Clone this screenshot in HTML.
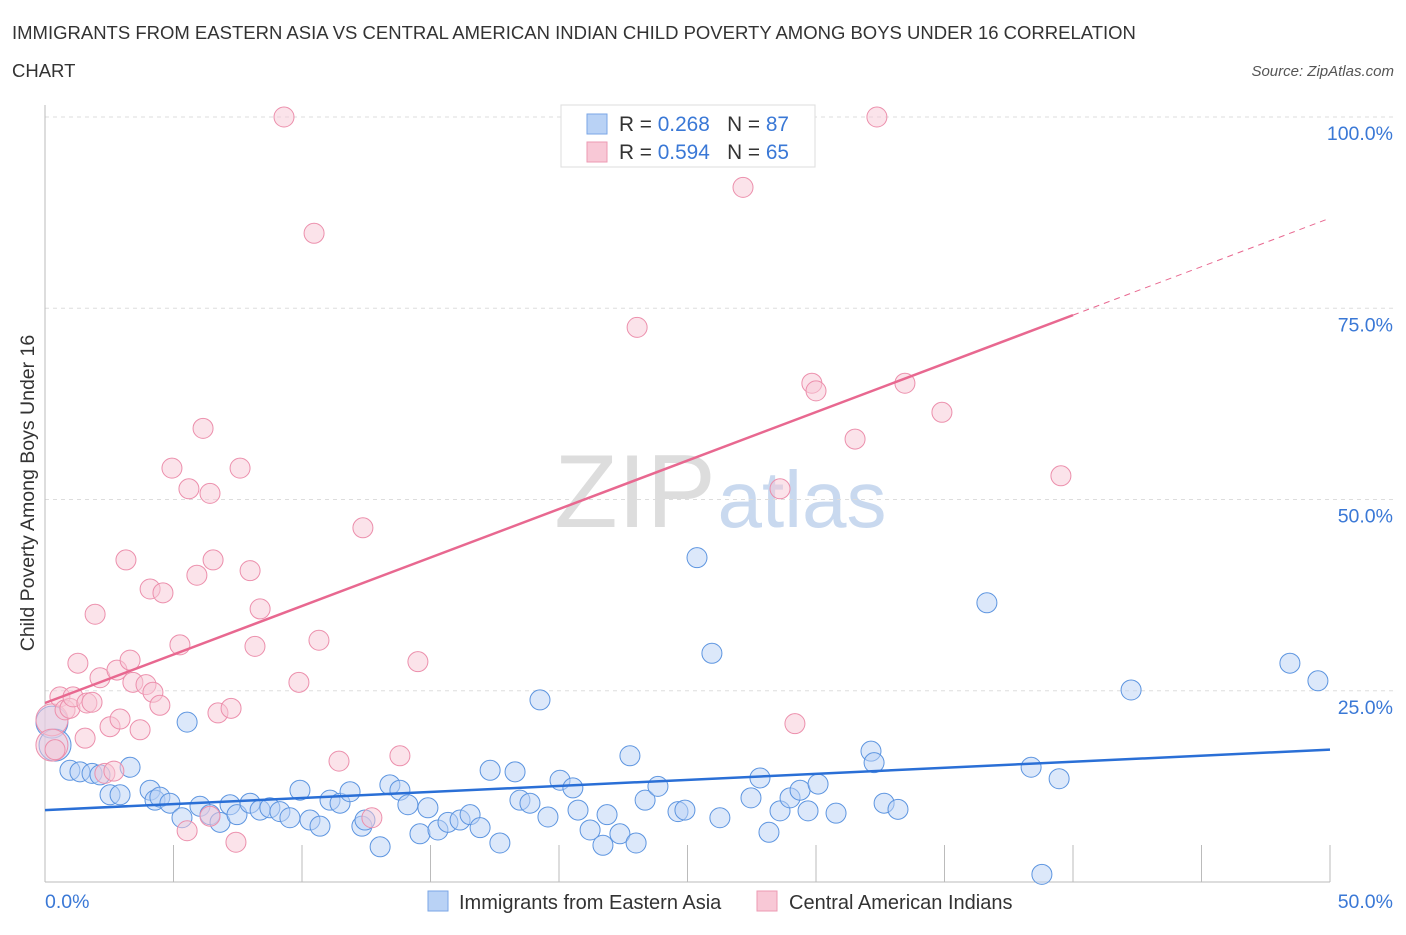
<!DOCTYPE html>
<html><head><meta charset="utf-8"><style>
body{margin:0;background:#fff;font-family:"Liberation Sans",sans-serif}
svg text{font-family:"Liberation Sans",sans-serif}
</style></head><body>
<svg id="c" width="1406" height="930">
<text x="12" y="39" font-size="18.5" fill="#333">IMMIGRANTS FROM EASTERN ASIA VS CENTRAL AMERICAN INDIAN CHILD POVERTY AMONG BOYS UNDER 16 CORRELATION</text>
<text x="12" y="77" font-size="18.5" fill="#333">CHART</text>
<text x="1394" y="76" font-size="15" fill="#555" font-style="italic" text-anchor="end">Source: ZipAtlas.com</text>
<text transform="translate(34,493) rotate(-90)" font-size="19.5" fill="#333" text-anchor="middle">Child Poverty Among Boys Under 16</text>
<g><text x="635" y="527" font-size="104" fill="#ddd" text-anchor="middle" font-family="Liberation Serif">ZIP</text><text x="802" y="527" font-size="80" fill="#c9d9ef" text-anchor="middle">atlas</text></g>
<g id="grid"></g><g id="marks"></g><g id="lines"></g>
<g>
<rect x="561" y="105" width="254" height="62" fill="#fff" stroke="#ddd"/>
<rect x="587" y="114" width="20" height="20" fill="#b9d2f5" stroke="#7aa6e6"/>
<rect x="587" y="142" width="20" height="20" fill="#f8c8d6" stroke="#ec9ab3"/>
<text x="619" y="131" font-size="20.8" fill="#333">R = <tspan fill="#3a78d6">0.268</tspan>&#160;&#160;&#160;N = <tspan fill="#3a78d6">87</tspan></text>
<text x="619" y="159" font-size="20.8" fill="#333">R = <tspan fill="#3a78d6">0.594</tspan>&#160;&#160;&#160;N = <tspan fill="#3a78d6">65</tspan></text>
</g>
<g>
<rect x="428" y="891" width="20" height="20" fill="#b9d2f5" stroke="#7aa6e6"/>
<text x="459" y="909" font-size="20" fill="#333">Immigrants from Eastern Asia</text>
<rect x="757" y="891" width="20" height="20" fill="#f8c8d6" stroke="#ec9ab3"/>
<text x="789" y="909" font-size="20" fill="#333">Central American Indians</text>
</g>
</svg>
<script>
const yTicks=[25,50,75,100];
const yTickLabels=["25.0%","50.0%","75.0%","100.0%"];
const xTickLabels=["0.0%","50.0%"];
const blueX=[0.27,0.39,0.97,1.36,1.83,2.14,2.53,2.92,3.31,4.09,4.28,4.47,4.86,5.33,5.53,6.03,6.42,6.81,7.20,7.47,7.98,8.37,8.75,9.14,9.53,9.92,10.31,10.70,11.09,11.48,11.87,12.33,12.45,13.04,13.42,13.81,14.12,14.59,14.90,15.29,15.68,16.15,16.54,16.93,17.32,17.70,18.29,18.48,18.87,19.26,19.57,20.04,20.54,20.74,21.21,21.71,21.87,22.37,22.76,23.00,23.35,23.85,24.63,24.90,25.37,25.95,26.26,27.47,27.82,28.17,28.60,28.99,29.38,29.69,30.08,30.78,32.14,32.26,32.65,33.19,36.65,38.37,38.79,39.46,42.26,48.44,49.53];
const blueY=[20.9,17.9,14.6,14.4,14.2,14.0,11.4,11.4,15.0,12.0,10.7,11.1,10.3,8.4,20.9,9.9,8.8,7.8,10.1,8.8,10.3,9.4,9.7,9.2,8.4,12.0,8.1,7.3,10.7,10.3,11.8,7.3,8.1,4.6,12.7,12.0,10.1,6.3,9.7,6.8,7.8,8.1,8.8,7.1,14.6,5.1,14.4,10.7,10.3,23.8,8.5,13.3,12.3,9.4,6.8,4.8,8.8,6.3,16.5,5.1,10.7,12.5,9.2,9.4,42.4,29.9,8.4,11.0,13.6,6.5,9.3,11.0,12.0,9.3,12.8,9.0,17.1,15.6,10.3,9.5,36.5,15.0,1.0,13.5,25.1,28.6,26.3];
const pinkX=[0.27,0.27,0.39,0.58,0.78,0.97,1.09,1.28,1.56,1.63,1.83,1.95,2.14,2.33,2.53,2.68,2.80,2.92,3.15,3.31,3.42,3.70,3.93,4.09,4.20,4.47,4.59,4.94,5.25,5.53,5.60,5.91,6.15,6.42,6.42,6.54,6.73,7.24,7.43,7.59,7.98,8.17,8.37,9.30,9.88,10.47,10.66,11.44,12.37,12.72,13.81,14.51,23.04,27.16,28.60,29.18,29.84,30.00,31.52,32.37,33.46,34.90,39.53];
const pinkY=[21.2,17.9,17.3,24.2,22.5,22.7,24.2,28.6,18.8,23.4,23.5,35.0,26.7,14.2,20.3,14.5,27.7,21.3,42.1,29.0,26.1,19.9,25.8,38.3,24.8,23.1,37.8,54.1,31.0,6.7,51.4,40.1,59.3,8.6,50.8,42.1,22.1,22.7,5.2,54.1,40.7,30.8,35.7,100,26.1,84.8,31.6,15.8,46.3,8.4,16.5,28.8,72.5,90.8,51.4,20.7,65.2,64.2,57.9,100,65.2,61.4,53.1];
const blueTrend=[9.4,17.3];
const pinkTrend=[23.4,74.1];
const x0=45,x1=1330,yb=882,yt=117;
const sx=v=>x0+v/50*(x1-x0);
const sy=v=>yb-v/100*(yb-yt);
const NS="http://www.w3.org/2000/svg";
function mk(t,a,p){const e=document.createElementNS(NS,t);for(const k in a)e.setAttribute(k,a[k]);p.appendChild(e);return e;}
const grid=document.getElementById('grid');
yTicks.forEach((t,i)=>{
 const l=mk('line',{x1:x0,x2:1393,y1:sy(t),y2:sy(t),stroke:'#ddd','stroke-dasharray':'4,4'},grid);
 
 
 const tx=mk('text',{x:1393,y:sy(t)+23,'font-size':19.5,fill:'#3a78d6','text-anchor':'end'},grid);
 tx.textContent=yTickLabels[i];
 
 
});
const ax=mk('line',{x1:x0,x2:x0,y1:105,y2:yb,stroke:'#bbb'},grid);


const bx=mk('line',{x1:x0,x2:x1,y1:yb,y2:yb,stroke:'#bbb'},grid);


for(let v=5;v<=50;v+=5){const t=mk('line',{x1:sx(v),x2:sx(v),y1:845,y2:yb,stroke:'#bbb'},grid);
 
 }
[[0,'start'],[50,'end']].forEach((d,i)=>{const t=mk('text',{x:i?1393:45,y:908,'font-size':19.5,fill:'#3a78d6','text-anchor':d[1]},grid);t.textContent=xTickLabels[i];
 
 });
const marks=document.getElementById('marks');
function dots(X,Y,fill,stroke,name){X.forEach((x,i)=>{const big=(i<2&&x<0.5)?16:10;
 const c=mk('circle',{cx:sx(x),cy:sy(Y[i]),r:big,fill:fill,'fill-opacity':0.5,stroke:stroke,'stroke-width':1},marks);
 
 });}
dots(blueX,blueY,'#b9d2f5','#5d95e0','point-eastern-asia');
dots(pinkX,pinkY,'#f8c8d6','#ec8fac','point-central-american');
const lines=document.getElementById('lines');
const b=mk('line',{x1:sx(0),y1:sy(blueTrend[0]),x2:sx(50),y2:sy(blueTrend[1]),stroke:'#2a6fd6','stroke-width':2.5},lines);


const slope=(pinkTrend[1]-pinkTrend[0])/40;
const p=mk('line',{x1:sx(0),y1:sy(pinkTrend[0]),x2:sx(40),y2:sy(pinkTrend[1]),stroke:'#e86890','stroke-width':2.5},lines);


const pd=mk('line',{x1:sx(40),y1:sy(pinkTrend[1]),x2:sx(50),y2:sy(pinkTrend[0]+slope*50),stroke:'#e86890','stroke-width':1,'stroke-dasharray':'6,5'},lines);


</script>
</body></html>
